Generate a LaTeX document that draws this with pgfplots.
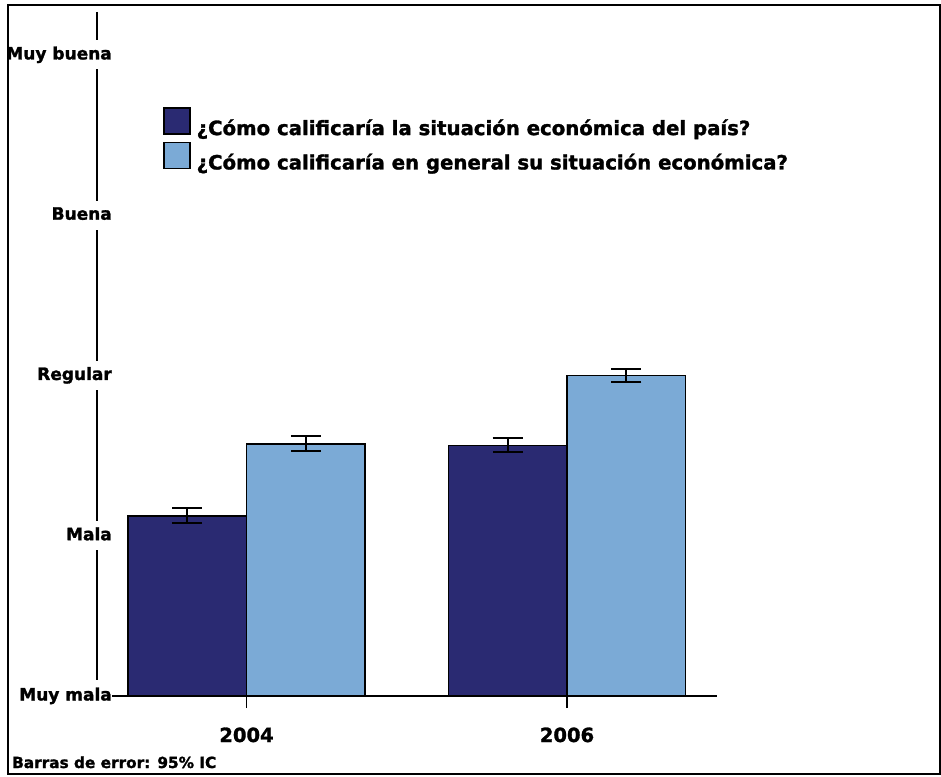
\documentclass[border=0pt]{standalone}
\usepackage{pgfplots}
\usepackage{pgfplotstable}
\pgfplotsset{compat=1.18}
\usepackage{fontspec}
\setmainfont{DejaVu Sans}[BoldFeatures={FakeBold=1.5}]
\definecolor{darkbar}{RGB}{42,42,114}
\definecolor{lightbar}{RGB}{123,170,214}
\pgfplotstableread{
x dark darkerr light lighterr
0 2.125 0.048 2.574 0.047
1 2.564 0.044 2.999 0.041
}\datatable
\begin{document}
\begin{tikzpicture}
\draw[line width=1.8pt] (-15pt,684pt) -- (-15pt,16pt);
\begin{axis}[
  scale only axis, width=605pt, height=684pt,
  xmin=-0.4197, xmax=1.468, ymin=1, ymax=5.268,
  axis lines*=left,
  y axis line style={draw=none},
  x axis line style={line width=1.8pt},
  ybar=0pt, bar width=0.37,
  xtick={0,1}, xticklabels={2004,2006},
  ytick={1,2,3,4,5}, yticklabels={Muy mala,Mala,Regular,Buena,Muy buena},
  tick align=outside, major tick length=12pt,
  xtick style={line width=1.8pt, black},
  ytick style={draw=none},
  xticklabel style={font=\bfseries\fontsize{19.5}{22}\selectfont, anchor=base, yshift=-34pt},
  yticklabel style={font=\bfseries\fontsize{17}{20}\selectfont, anchor=east, fill=white,
    inner xsep=0pt, inner ysep=6pt, text height=13pt, text depth=4pt, xshift=12pt},
  legend style={draw=none, fill=none, at={(0.0843,0.8611)}, anchor=north west,
    font=\bfseries\fontsize{19.7}{23}\selectfont, inner sep=0pt, row sep=5pt,
    column sep=6pt, nodes={inner sep=0pt}},
  legend cell align=left,
  legend image code/.code={\draw[#1, line width=1.5pt] (0pt,-6pt) rectangle (26pt,20pt);},
]
\addplot[fill=darkbar, draw=black, line width=1.6pt,
  error bars/.cd, y dir=both, y explicit,
  error bar style={line width=2pt, black},
  error mark options={rotate=90, mark size=15pt, line width=2pt, black}]
  table[x=x, y=dark, y error=darkerr] {\datatable};
\addlegendentry{¿Cómo calificaría la situación económica del país?}
\addplot[fill=lightbar, draw=black, line width=1.6pt,
  error bars/.cd, y dir=both, y explicit,
  error bar style={line width=2pt, black},
  error mark options={rotate=90, mark size=15pt, line width=2pt, black}]
  table[x=x, y=light, y error=lighterr] {\datatable};
\addlegendentry{¿Cómo calificaría en general su situación económica?}
\end{axis}
\node[anchor=base west, inner sep=0pt, font=\bfseries\fontsize{15.3}{18}\selectfont]
  at (-100pt,-72pt) {Barras de error: 95\% IC};
\draw[line width=2pt] (-104pt,-78pt) rectangle (828pt,691pt);
\pgfresetboundingbox
\useasboundingbox (-112pt,-80pt) rectangle (829pt,696pt);
\end{tikzpicture}
\end{document}
